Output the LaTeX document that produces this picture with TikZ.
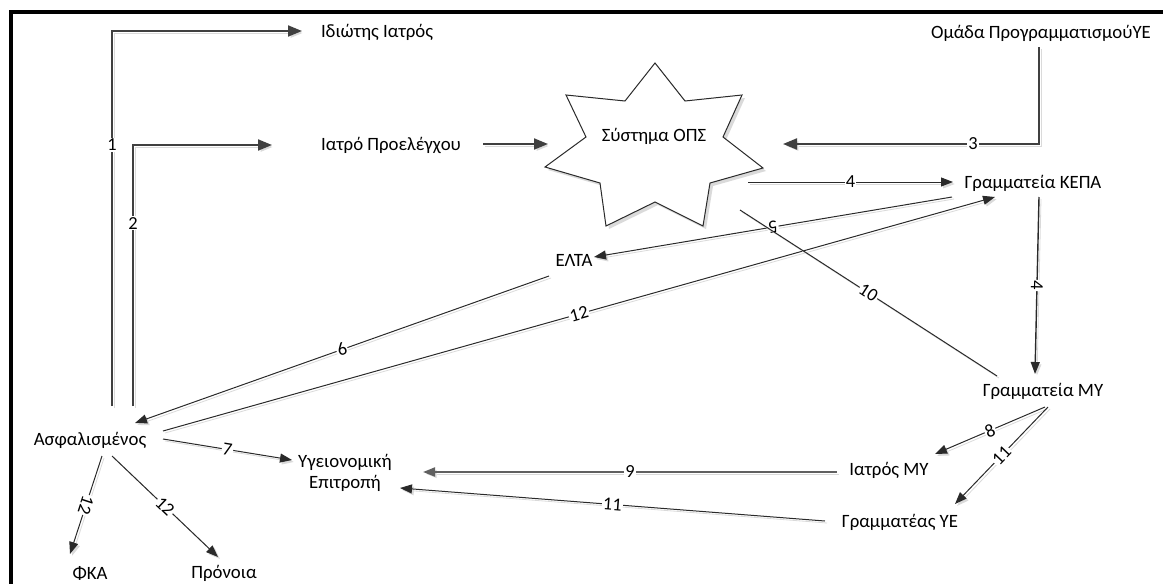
\documentclass[tikz,border=0pt]{standalone}
\usepackage{fontspec}
\setmainfont{Carlito}
\usetikzlibrary{arrows.meta}
\definecolor{lncol}{HTML}{404040}
\definecolor{thincol}{HTML}{2A2A2A}
\definecolor{shcol}{HTML}{DADADA}
\begin{document}
\begin{tikzpicture}[x=0.5pt,y=-0.5pt,
  font=\fontsize{9.4}{9.4}\selectfont,
  txt/.style={inner sep=1pt},
  lbl/.style={fill=white, inner sep=0.5pt, font=\fontsize{9.2}{9.2}\selectfont},
  shd/.style={preaction={draw=shcol, transform canvas={shift={(2,2)}}}},
  bigconn/.style={draw=lncol, line width=1pt, -{Triangle[length=7pt,width=5.5pt]}, shd},
  thinconn/.style={draw=thincol, line width=0.5pt, -{Triangle[length=6pt,width=4.5pt]}, shd},
  plainconn/.style={draw=thincol, line width=0.5pt, shd}
]
\useasboundingbox (0,0) rectangle (1163,584);
% frame
\draw[line width=2pt, line join=miter] (11,584) -- (11,12) -- (1163,12);

% star
\draw[thincol, line width=0.5pt, fill=white,
      preaction={fill=shcol, transform canvas={shift={(3,3)}}}]
  (655,63) -- (685,101) -- (742,95) -- (723,137) -- (763,168) -- (710,183)
  -- (703,226) -- (655,202) -- (606,226) -- (600,183) -- (545,167)
  -- (586,137) -- (566,95) -- (625,101) -- cycle;

% text nodes
\node[txt] (idi) at (377,32) {Ιδιώτης Ιατρός};
\node[txt] (pro) at (391,145) {Ιατρό Προελέγχου};
\node[txt] (oma) at (1041,33) {Ομάδα ΠρογραμματισμούΥΕ};
\node[txt] (ops) at (654,136) {Σύστημα ΟΠΣ};
\node[txt] (kepa) at (1033,183) {Γραμματεία ΚΕΠΑ};
\node[txt] (elta) at (574,260) {ΕΛΤΑ};
\node[txt] (asf) at (90,440) {Ασφαλισμένος};
\node[txt, align=center] (yge) at (345,473) {Υγειονομική\\[1pt]Επιτροπή};
\node[txt] (fka) at (90,573) {ΦΚΑ};
\node[txt] (pron) at (224,573) {Πρόνοια};
\node[txt] (iatmy) at (889,470) {Ιατρός ΜΥ};
\node[txt] (gra) at (900,522) {Γραμματέας ΥΕ};
\node[txt] (grmy) at (1043,391) {Γραμματεία ΜΥ};

% connector end points
\coordinate (asfA) at (112,406);
\coordinate (asfB) at (133,406);
\coordinate (idiIn) at (302,31);
\coordinate (proIn) at (272,145);
\coordinate (proOut) at (483,144);
\coordinate (opsInL) at (548,144);
\coordinate (omaOut) at (1039,47);
\coordinate (opsInR) at (783,144);
\coordinate (opsOut4) at (748,182);
\coordinate (kepaIn4) at (953,182);
\coordinate (kepaOut5) at (952,197);
\coordinate (eltaIn) at (594,257);
\coordinate (eltaOut) at (549,276);
\coordinate (asfIn6) at (135,423);
\coordinate (asfOut12) at (163,431);
\coordinate (kepaIn12) at (995,197);
\coordinate (asfOut7) at (163,439);
\coordinate (ygeIn7) at (292,460);
\coordinate (asfOutF) at (102,456);
\coordinate (fkaIn) at (70,554);
\coordinate (asfOutP) at (112,456);
\coordinate (pronIn) at (218,557);
\coordinate (opsOut10) at (740,210);
\coordinate (grmyIn10) at (997,376);
\coordinate (kepaOutD) at (1039,197);
\coordinate (grmyIn4) at (1035,374);
\coordinate (grmyOut8) at (1045,407);
\coordinate (iatmyIn) at (935,454);
\coordinate (grmyOut11) at (1048,407);
\coordinate (graIn) at (955,504);
\coordinate (iatmyOut) at (837,472);
\coordinate (ygeIn9) at (423,472);
\coordinate (graOut) at (825,521);
\coordinate (ygeIn11) at (400,488);

% connectors
\draw[bigconn] (asfA) |- node[lbl, pos=0.348] {1} (idiIn);
\draw[bigconn] (asfB) |- node[lbl, pos=0.35] {2} (proIn);
\draw[bigconn] (omaOut) |- node[lbl, pos=0.629] {3} (opsInR);
\draw[bigconn] (proOut) -- (opsInL);
\draw[thinconn] (opsOut4) -- node[lbl] {4} (kepaIn4);
\draw[thinconn] (kepaOut5) -- node[lbl, sloped, allow upside down] {5} (eltaIn);
\draw[thinconn] (eltaOut) -- node[lbl, sloped] {6} (asfIn6);
\draw[thinconn] (asfOut12) -- node[lbl, sloped] {12} (kepaIn12);
\draw[thinconn] (asfOut7) -- node[lbl, sloped] {7} (ygeIn7);
\draw[thinconn] (asfOutF) -- node[lbl, sloped, allow upside down] {12} (fkaIn);
\draw[thinconn] (asfOutP) -- node[lbl, sloped] {12} (pronIn);
\draw[plainconn] (opsOut10) -- node[lbl, sloped] {10} (grmyIn10);
\draw[thinconn, line width=0.7pt] (kepaOutD) -- node[lbl, sloped, allow upside down] {4} (grmyIn4);
\draw[thinconn] (grmyOut8) -- node[lbl, sloped] {8} (iatmyIn);
\draw[thinconn] (grmyOut11) -- node[lbl, sloped] {11} (graIn);
\draw[thinconn, draw=gray!75!black, line width=0.9pt] (iatmyOut) -- node[lbl] {9} (ygeIn9);
\draw[thinconn] (graOut) -- node[lbl, sloped] {11} (ygeIn11);
\end{tikzpicture}
\end{document}
